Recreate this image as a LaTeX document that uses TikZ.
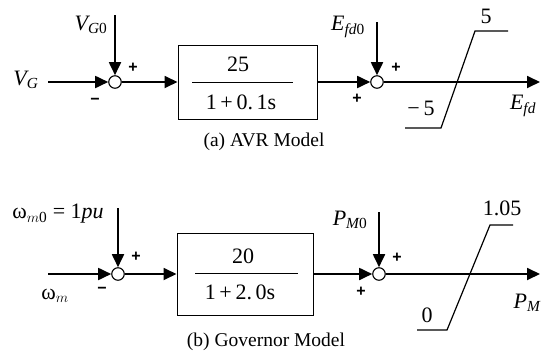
\documentclass[tikz,border=0pt]{standalone}
\usepackage{amsmath}
\usepackage{fontspec}
\setmainfont{Liberation Serif}
\newfontfamily\plusfont{Liberation Sans}
\usetikzlibrary{arrows.meta}
\begin{document}
\begin{tikzpicture}[x=1pt,y=-1pt,
  conn/.style={line width=1.8pt,-{Triangle[length=13pt,width=12pt]}},
  sumc/.style={circle,draw,line width=1.1pt,minimum size=12.5pt,inner sep=0pt,fill=white},
  gainbox/.style={draw,line width=1pt,inner sep=0pt},
  fracline/.style={line width=1pt},
  satline/.style={line width=1.2pt},
  lbl/.style={font=\fontsize{22}{24}\selectfont,inner sep=0pt},
  numtxt/.style={font=\fontsize{22}{24}\selectfont,inner sep=0pt},
  captxt/.style={font=\fontsize{19.5}{22}\selectfont,inner sep=0pt},
  sgn/.style={font=\plusfont\bfseries\fontsize{16}{16}\selectfont,inner sep=0pt},
  ]
\useasboundingbox (0,0) rectangle (548,356);

% ---------------- (a) AVR model ----------------
\coordinate (inA) at (48,82);
\coordinate (refA) at (115,15);
\node[sumc] (sA1) at (115,82) {};
\node[gainbox,minimum width=139pt,minimum height=74pt] (bA) at (247.5,82) {};
\node[numtxt] (nA) at (238,64) {25};
\node[numtxt] (dA) at (241,102) {1\,+\,0.\,1s};
\coordinate (flA1) at (192,82);
\coordinate (flA2) at (293,82);
\draw[fracline] (flA1) -- (flA2);
\coordinate (refA2) at (377,22);
\node[sumc] (sA2) at (377,82) {};
\coordinate (outA) at (540,82);

\draw[conn] (inA) -- (sA1.west);
\draw[conn] (refA) -- (sA1.north);
\draw[conn] (sA1.east) -- (bA.west |- sA1.east);
\draw[conn] (bA.east |- sA2.west) -- (sA2.west);
\draw[conn] (refA2) -- (sA2.north);
\draw[conn] (sA2.east) -- (outA);

\draw[satline] (405,128) -- (441,128) -- (475,31) -- (508,31);

\node[lbl] (lVG) at (26,80) {$\textit{V}_{\textit{G}}$};
\node[lbl] (lVG0) at (91,25) {$\textit{V}_{\textit{G}\textup{0}}$};
\node[lbl] (lEfd0) at (348,27) {$\textit{E}_{\textit{fd}\textup{0}}$};
\node[lbl] (lEfd) at (523,106) {$\textit{E}_{\textit{fd}}$};
\node[numtxt] (l5) at (486,16) {5};
\node[numtxt] (lm5) at (421,108) {−\,5};
\node[sgn] (pA1) at (133,68) {+};
\node[sgn] (mA1) at (95,101) {−};
\node[sgn] (pA2) at (396,68) {+};
\node[sgn] (pA3) at (357,99) {+};
\node[captxt] (capA) at (264,142) {(a) AVR Model};

% ---------------- (b) Governor model ----------------
\coordinate (inB) at (48,274);
\coordinate (refB) at (118,208);
\node[sumc] (sB1) at (118,274) {};
\node[gainbox,minimum width=136pt,minimum height=82pt] (bB) at (245,274) {};
\node[numtxt] (nB) at (243,256) {20};
\node[numtxt] (dB) at (240,292) {1\,+\,2.\,0s};
\coordinate (flB1) at (195,273);
\coordinate (flB2) at (298,273);
\draw[fracline] (flB1) -- (flB2);
\coordinate (refB2) at (379,212);
\node[sumc] (sB2) at (379,274) {};
\coordinate (outB) at (540,274);

\draw[conn] (inB) -- (sB1.west);
\draw[conn] (refB) -- (sB1.north);
\draw[conn] (sB1.east) -- (bB.west |- sB1.east);
\draw[conn] (bB.east |- sB2.west) -- (sB2.west);
\draw[conn] (refB2) -- (sB2.north);
\draw[conn] (sB2.east) -- (outB);

\draw[satline] (417,330) -- (447,330) -- (490,225) -- (513,225);

\node[lbl] (lwm0) at (58,214) {ω$_{m\textup{0}}$ = 1\textit{pu}};
\node[lbl] (lwm) at (55,296) {ω$_{m}$};
\node[lbl] (lPM0) at (350,220) {$\textit{P}_{\textit{M}\textup{0}}$};
\node[lbl] (lPM) at (527,303) {$\textit{P}_{\textit{M}}$};
\node[numtxt] (l105) at (502,208) {1.05};
\node[numtxt] (l0) at (427,315) {0};
\node[sgn] (pB1) at (136,257) {+};
\node[sgn] (mB1) at (102,290) {−};
\node[sgn] (pB2) at (397,258) {+};
\node[sgn] (pB3) at (361,292) {+};
\node[captxt] (capB) at (266,342) {(b) Governor Model};
\end{tikzpicture}
\end{document}
